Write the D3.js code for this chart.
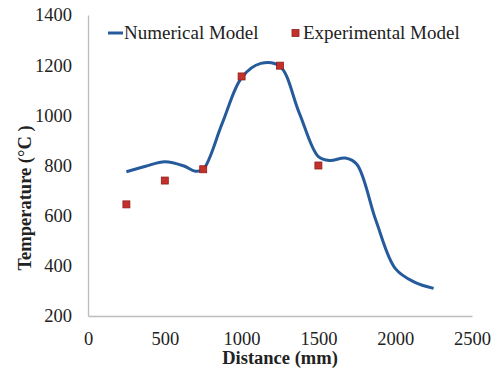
<!DOCTYPE html>
<html>
<head>
<meta charset="utf-8">
<script src="https://cdnjs.cloudflare.com/ajax/libs/d3/7.8.5/d3.min.js"></script>
<style>
    body { margin: 0; background: #ffffff; }
    svg { display: block; }
    text { font-family: "Liberation Serif", "Times New Roman", serif; fill: #222; }
</style>
</head>
<body>
<svg id="grafico"></svg>
<script>
    // Numerical model
    const numDistancia = [250, 375, 500, 625, 700, 750, 875, 1000, 1125, 1250, 1375, 1500, 1575, 1675, 1750, 1875, 2000, 2125, 2250];
    const numTemperatura = [775, 797, 815, 798, 777, 785, 970, 1150, 1207, 1195, 1010, 835, 820, 830, 805, 580, 390, 335, 310];

    // Experimental model (markers)
    const expDistancia = [250, 500, 750, 1000, 1250, 1500];
    const expTemperatura = [645, 740, 785, 1155, 1198, 800];

    const ticksX = [0, 500, 1000, 1500, 2000, 2500];
    const ticksY = [200, 400, 600, 800, 1000, 1200, 1400];

    const ancho = 497, alto = 369;
    const margenes = { top: 15, right: 25, bottom: 53, left: 88 };

    const svg = d3.select("#grafico").attr("width", ancho).attr("height", alto);

    const escalaX = d3.scaleLinear().domain([0, 2500]).range([margenes.left, ancho - margenes.right]);
    const escalaY = d3.scaleLinear().domain([200, 1400]).range([alto - margenes.bottom, margenes.top]);

    // ejes
    const ejeX = d3.axisBottom(escalaX).tickValues(ticksX).tickSize(0).tickPadding(16).tickFormat(d3.format("d"));
    const gx = svg.append("g").attr("transform", `translate(0,${escalaY(200)})`).call(ejeX);
    const ejeY = d3.axisLeft(escalaY).tickValues(ticksY).tickSize(0).tickPadding(16).tickFormat(d3.format("d"));
    const gy = svg.append("g").attr("transform", `translate(${escalaX(0)},0)`).call(ejeY);

    [gx, gy].forEach(g => {
        g.select(".domain").attr("stroke", "#bdbdbd").attr("stroke-width", 1.3);
        g.selectAll("text").style("font-size", "18.5px").style("font-family", "Liberation Serif").attr("fill", "#222");
    });
    gx.selectAll("text").attr("dy", "0.71em");

    // linea del modelo numerico
    const puntosNum = numDistancia.map((d, i) => [d, numTemperatura[i]]);
    const linea = d3.line()
        .x(d => escalaX(d[0]))
        .y(d => escalaY(d[1]))
        .curve(d3.curveCatmullRom.alpha(0.5));

    svg.append("path")
        .datum(puntosNum)
        .attr("d", linea)
        .attr("fill", "none")
        .attr("stroke", "#255a9b")
        .attr("stroke-width", 3);

    // marcadores experimentales
    const puntosExp = expDistancia.map((d, i) => [d, expTemperatura[i]]);
    svg.selectAll(".marca")
        .data(puntosExp)
        .enter().append("rect")
        .attr("class", "marca")
        .attr("x", d => escalaX(d[0]) - 3.5)
        .attr("y", d => escalaY(d[1]) - 3.5)
        .attr("width", 7)
        .attr("height", 7)
        .attr("fill", "#c4302b")
        .attr("stroke", "#8e1f1c")
        .attr("stroke-width", 0.8);

    // titulos de ejes
    svg.append("text")
        .attr("x", 280).attr("y", 364)
        .attr("text-anchor", "middle")
        .style("font-size", "18.5px").style("font-weight", "bold")
        .text("Distance (mm)");

    svg.append("text")
        .attr("transform", "translate(31,198) rotate(-90)")
        .attr("text-anchor", "middle")
        .style("font-size", "18.5px").style("font-weight", "bold")
        .text("Temperature (°C )");

    // leyenda
    const leyenda = svg.append("g");
    leyenda.append("line")
        .attr("x1", 108).attr("x2", 123).attr("y1", 33).attr("y2", 33)
        .attr("stroke", "#255a9b").attr("stroke-width", 3);
    leyenda.append("text")
        .attr("x", 124).attr("y", 39)
        .style("font-size", "19px")
        .text("Numerical Model");
    leyenda.append("rect")
        .attr("x", 292).attr("y", 29.5).attr("width", 7).attr("height", 7)
        .attr("fill", "#c4302b").attr("stroke", "#8e1f1c").attr("stroke-width", 0.8);
    leyenda.append("text")
        .attr("x", 303).attr("y", 39)
        .style("font-size", "19px")
        .text("Experimental Model");
</script>
</body>
</html>
